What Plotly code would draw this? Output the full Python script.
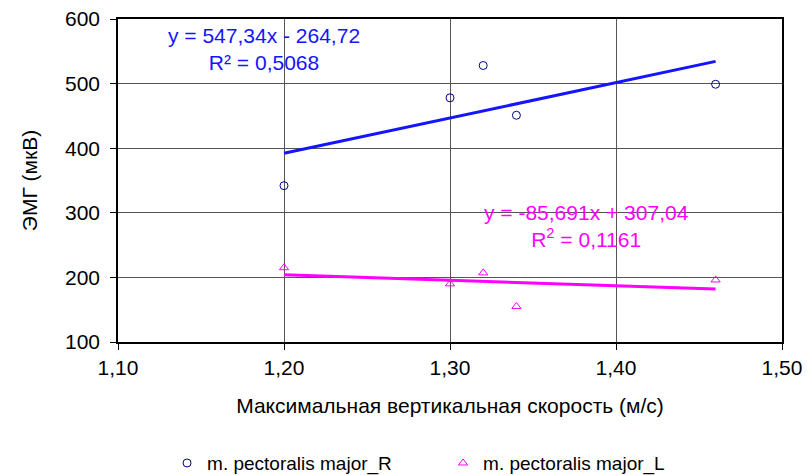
import numpy as np
import plotly.graph_objects as go

x_vals = [1.20, 1.30, 1.32, 1.34, 1.46]
emg_R = [342, 478, 528, 451, 499]
emg_L = [215, 190, 207, 155, 196]
trend_x = [1.20, 1.46]
coef_R = [547.34, -264.72]
coef_L = [-85.691, 307.04]
x_ticks = [1.10, 1.20, 1.30, 1.40, 1.50]
y_ticks = [100, 200, 300, 400, 500, 600]

FONT = "Liberation Sans, Arial, sans-serif"
BLUE = "#1414ff"
MAG = "#ff00ff"
FS = 21

fig = go.Figure()
tx = np.array(trend_x)
fig.add_trace(go.Scatter(x=tx, y=coef_R[0] * tx + coef_R[1], mode="lines",
                         line=dict(color=BLUE, width=3), showlegend=False, hoverinfo="skip"))
fig.add_trace(go.Scatter(x=tx, y=coef_L[0] * tx + coef_L[1], mode="lines",
                         line=dict(color=MAG, width=3), showlegend=False, hoverinfo="skip"))
fig.add_trace(go.Scatter(x=x_vals, y=emg_R, mode="markers", name="m. pectoralis major_R",
                         marker=dict(symbol="circle-open", size=8, color="#000080", line=dict(width=1))))
fig.add_trace(go.Scatter(x=x_vals, y=emg_L, mode="markers", name="m. pectoralis major_L",
                         marker=dict(symbol="triangle-up-open", size=8, color=MAG, line=dict(width=1))))

fig.add_annotation(x=1.188, y=553, text="y = 547,34x - 264,72<br>R² = 0,5068", showarrow=False,
                   font=dict(family=FONT, size=FS, color=BLUE), align="center")
fig.add_annotation(x=1.382, y=280, text="y = -85,691x + 307,04<br>R<sup>2</sup> = 0,1161", showarrow=False,
                   font=dict(family=FONT, size=FS, color=MAG), align="center")

axis_common = dict(showline=True, linecolor="black", linewidth=1.5, mirror=True,
                   showgrid=True, gridcolor="#555555", gridwidth=1,
                   ticks="outside", ticklen=6, tickcolor="black",
                   tickfont=dict(family=FONT, size=FS, color="black"), zeroline=False)

fig.update_xaxes(range=[1.10, 1.50], tickvals=x_ticks, tickformat=".2f",
                 title=dict(text="Максимальная вертикальная скорость (м/с)",
                            font=dict(family=FONT, size=FS, color="black"), standoff=20),
                 **axis_common)
fig.update_yaxes(range=[100, 600], tickvals=y_ticks, ticklabelstandoff=6,
                 title=dict(text="ЭМГ (мкВ)", font=dict(family=FONT, size=FS, color="black"), standoff=22),
                 **axis_common)

fig.update_layout(
    width=807, height=475,
    margin=dict(l=118, r=25, t=19, b=133, autoexpand=False),
    paper_bgcolor="white", plot_bgcolor="white",
    separators=", ",
    font=dict(family=FONT, color="black"),
    legend=dict(orientation="h", xref="container", yref="container",
                x=0.207, xanchor="left", y=0.025, yanchor="middle",
                font=dict(family=FONT, size=19, color="black"), itemwidth=30,
                entrywidth=231, entrywidthmode="pixels",
                tracegroupgap=0, bgcolor="rgba(0,0,0,0)"),
)

fig.write_html("out.html")
